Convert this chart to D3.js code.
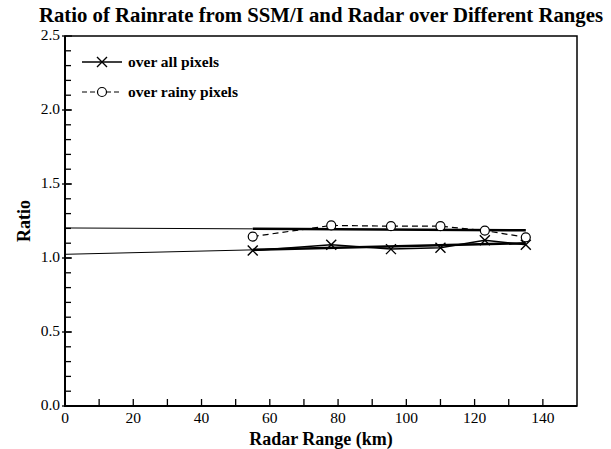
<!DOCTYPE html>
<html>
<head>
<meta charset="utf-8">
<script src="https://cdn.jsdelivr.net/npm/d3@7"></script>
<style>
  body { margin: 0; background: #fff; }
  text { font-family: "Liberation Serif", "DejaVu Serif", serif; fill: #000; }
</style>
</head>
<body>
<script>
// data
var rangeKm = [55, 78, 95.5, 110, 123, 135];
var allRatio = [1.05, 1.09, 1.06, 1.07, 1.12, 1.09];
var rainyRatio = [1.145, 1.22, 1.215, 1.215, 1.185, 1.14];
// fitted lines: thin part from 0 to 55 km, thick part 55 to 135 km
var fitX = [0, 55, 135];
var fitAll = [1.025, 1.055, 1.10];
var fitRainy = [1.203, 1.197, 1.187];
var xTicks = [0, 20, 40, 60, 80, 100, 120, 140];
var yTicks = [0.0, 0.5, 1.0, 1.5, 2.0, 2.5];

var W = 611, H = 449;
var padL = 65, padR = 577, padT = 36, padB = 406;

var svg = d3.select('body').append('svg').attr('width', W).attr('height', H);

var x = d3.scaleLinear().domain([0, 150]).range([padL, padR]);
var y = d3.scaleLinear().domain([0, 2.5]).range([padB, padT]);

// title
svg.append('text')
  .attr('x', 321).attr('y', 22)
  .attr('text-anchor', 'middle')
  .attr('textLength', 564).attr('lengthAdjust', 'spacingAndGlyphs')
  .style('font-size', '20px').style('font-weight', 'bold')
  .text('Ratio of Rainrate from SSM/I and Radar over Different Ranges');

// frame
svg.append('rect')
  .attr('x', padL).attr('y', padT)
  .attr('width', padR - padL).attr('height', padB - padT)
  .attr('fill', 'none').attr('stroke', '#000').attr('stroke-width', 1.5);
svg.append('line').attr('x1', padL).attr('x2', padL).attr('y1', padT).attr('y2', padB + 1)
  .attr('stroke', '#000').attr('stroke-width', 2);
svg.append('line').attr('x1', padL - 1).attr('x2', padR).attr('y1', padB).attr('y2', padB)
  .attr('stroke', '#000').attr('stroke-width', 2);

// x ticks every 10 km, labels every 20
svg.selectAll('.xt').data(d3.range(10, 150, 10)).enter().append('line')
  .attr('x1', function (d) { return x(d); }).attr('x2', function (d) { return x(d); })
  .attr('y1', padB).attr('y2', padB - 7)
  .attr('stroke', '#000').attr('stroke-width', 1.3);
svg.selectAll('.xl').data(xTicks).enter().append('text')
  .attr('x', function (d) { return x(d); }).attr('y', padB + 17)
  .attr('text-anchor', 'middle').style('font-size', '15.5px')
  .text(function (d) { return d; });

// y ticks: minor every 0.1, major every 0.5
svg.selectAll('.ym').data(d3.range(1, 25)).enter().append('line')
  .attr('x1', padL).attr('x2', padL + 6)
  .attr('y1', function (d) { return y(d / 10); }).attr('y2', function (d) { return y(d / 10); })
  .attr('stroke', '#000').attr('stroke-width', 1.3);
svg.selectAll('.yM').data(yTicks).enter().append('line')
  .attr('x1', padL - 3).attr('x2', padL + 7)
  .attr('y1', function (d) { return y(d); }).attr('y2', function (d) { return y(d); })
  .attr('stroke', '#000').attr('stroke-width', 1.3);
svg.selectAll('.yl').data(yTicks).enter().append('text')
  .attr('x', padL - 5).attr('y', function (d) { return y(d) + 4; })
  .attr('text-anchor', 'end').style('font-size', '15.5px')
  .text(function (d) { return d.toFixed(1); });

// axis titles
svg.append('text')
  .attr('x', 321).attr('y', 445)
  .attr('text-anchor', 'middle')
  .style('font-size', '18px').style('font-weight', 'bold')
  .text('Radar Range (km)');
svg.append('text')
  .attr('transform', 'translate(30,' + y(1.25) + ') rotate(-90)')
  .attr('text-anchor', 'middle')
  .style('font-size', '18px').style('font-weight', 'bold')
  .text('Ratio');

// fit lines
function fitLine(vals) {
  svg.append('line')
    .attr('x1', x(fitX[0])).attr('y1', y(vals[0]))
    .attr('x2', x(fitX[1])).attr('y2', y(vals[1]))
    .attr('stroke', '#000').attr('stroke-width', 1);
  svg.append('line')
    .attr('x1', x(fitX[1])).attr('y1', y(vals[1]))
    .attr('x2', x(fitX[2])).attr('y2', y(vals[2]))
    .attr('stroke', '#000').attr('stroke-width', 2.5);
}
fitLine(fitAll);
fitLine(fitRainy);

var line = d3.line()
  .x(function (d) { return x(d[0]); })
  .y(function (d) { return y(d[1]); });

var allPts = d3.zip(rangeKm, allRatio);
var rainyPts = d3.zip(rangeKm, rainyRatio);

svg.append('path').datum(allPts).attr('d', line)
  .attr('fill', 'none').attr('stroke', '#000').attr('stroke-width', 1.5);
svg.append('path').datum(rainyPts).attr('d', line)
  .attr('fill', 'none').attr('stroke', '#000').attr('stroke-width', 1.2)
  .attr('stroke-dasharray', '6,4');

function cross(g, cx, cy) {
  g.append('path')
    .attr('d', 'M' + (cx - 5) + ',' + (cy - 5) + 'L' + (cx + 5) + ',' + (cy + 5) +
               'M' + (cx - 5) + ',' + (cy + 5) + 'L' + (cx + 5) + ',' + (cy - 5))
    .attr('stroke', '#000').attr('stroke-width', 1.4).attr('fill', 'none');
}
function ring(g, cx, cy) {
  g.append('circle').attr('cx', cx).attr('cy', cy).attr('r', 4.5)
    .attr('fill', '#fff').attr('stroke', '#000').attr('stroke-width', 1.2);
}

allPts.forEach(function (d) { cross(svg, x(d[0]), y(d[1])); });
rainyPts.forEach(function (d) { ring(svg, x(d[0]), y(d[1])); });

// legend
var lg = svg.append('g');
lg.append('line').attr('x1', 82).attr('x2', 122).attr('y1', 62).attr('y2', 62)
  .attr('stroke', '#000').attr('stroke-width', 1.5);
cross(lg, 102, 62);
lg.append('text').attr('x', 128).attr('y', 67).style('font-size', '15.5px').style('font-weight', 'bold')
  .text('over all pixels');
lg.append('line').attr('x1', 82).attr('x2', 122).attr('y1', 92).attr('y2', 92)
  .attr('stroke', '#000').attr('stroke-width', 1.2).attr('stroke-dasharray', '5,3');
ring(lg, 102, 92);
lg.append('text').attr('x', 128).attr('y', 97).style('font-size', '15.5px').style('font-weight', 'bold')
  .text('over rainy pixels');
</script>
</body>
</html>
